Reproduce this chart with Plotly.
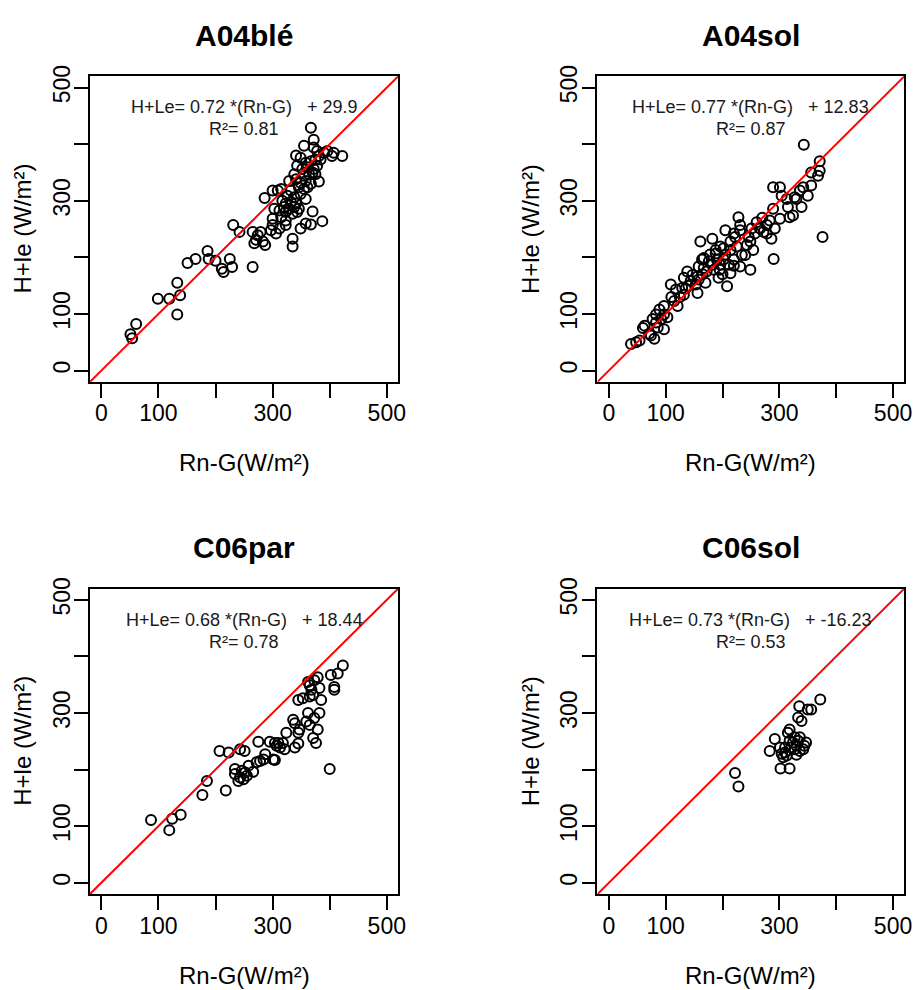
import plotly.graph_objects as go

# ---- data: Rn-G (x) vs H+le (y), W/m² ----
a04ble_x = [51, 54, 61, 99, 119, 133, 138, 133, 151, 165, 186, 188, 200, 211, 214, 225, 229, 265,
            231, 242, 265, 268, 274, 279, 283, 287, 271, 297,
            367, 372, 355, 372, 378, 390, 396, 407, 404, 422, 381, 375, 367, 384, 358, 349, 341,
            343, 352, 361, 372, 378, 338, 355, 364, 370, 375, 329, 341, 349, 358, 367, 381,
            346, 355, 361, 300, 309, 315, 332, 286, 326, 338, 349, 358, 317, 323, 332, 341,
            320, 329, 338, 346, 303, 312, 323, 335, 343, 370, 300, 315, 323, 387, 367, 358,
            349, 300, 312, 323, 306, 335, 335]
a04ble_y = [64, 57, 82, 127, 127, 155, 133, 99, 190, 197, 211, 197, 194, 180, 174, 197, 183, 183,
            257, 245, 245, 225, 239, 245, 228, 222, 231, 248,
            429, 408, 397, 394, 388, 385, 388, 385, 379, 379, 379, 373, 370, 373, 367, 376, 380,
            362, 356, 359, 356, 362, 347, 344, 347, 350, 347, 335, 338, 332, 335, 330, 334,
            324, 321, 324, 318, 318, 321, 318, 305, 309, 306, 312, 303, 300, 295, 298, 295,
            289, 286, 289, 286, 286, 283, 280, 277, 280, 281, 268, 271, 265, 264, 258, 260,
            251, 257, 251, 257, 242, 233, 219]

a04sol_x = [228, 205, 220, 231, 161, 182, 188, 202, 214, 225, 234, 167, 158, 167, 176, 182, 190,
            196, 202, 211, 220, 231, 138, 147, 156, 132, 144, 153, 170, 193, 208, 214, 109, 118,
            129, 132, 156, 121, 97, 89, 103, 92, 83, 63, 74, 80, 54, 39, 97, 86,
            222, 196, 214, 188, 164, 158, 135, 115, 83, 77, 71, 48, 97,
            172, 185, 195, 205, 178, 165, 200, 220, 140, 125, 110, 60,
            343, 371, 356, 371, 368, 289, 301, 304, 342, 356, 336, 350, 330, 327, 315, 339,
            313, 324, 318, 289, 301, 278, 283, 272, 266, 292, 251, 257, 278, 286, 246, 376,
            249, 240, 254, 290, 249, 243, 231, 260, 270]
a04sol_y = [271, 248, 242, 248, 228, 233, 213, 216, 228, 219, 204, 199, 184, 181, 193, 187, 196,
            187, 196, 187, 196, 184, 175, 169, 166, 164, 158, 152, 155, 164, 149, 172, 152, 143,
            146, 134, 137, 114, 114, 108, 94, 91, 85, 79, 62, 56, 53, 47, 73, 76,
            236, 219, 213, 207, 196, 161, 145, 123, 99, 91, 65, 50, 99,
            175, 178, 178, 205, 205, 170, 170, 185, 150, 130, 130, 75,
            399, 370, 350, 353, 344, 324, 324, 309, 324, 327, 318, 309, 303, 306, 289, 289,
            303, 274, 271, 286, 268, 257, 265, 245, 251, 251, 251, 242, 242, 233, 236, 236,
            178, 204, 213, 197, 228, 222, 257, 262, 270]

c06par_x = [87, 119, 124, 139, 177, 185, 218, 207, 223, 243, 251, 234, 234, 240, 249, 252, 258,
            266, 246, 272, 278, 275, 287, 295, 304, 301, 307, 313, 318, 321, 324, 336, 339,
            339, 345, 347, 362, 359, 373, 382, 379, 371, 376, 345, 353, 365, 385, 368, 382,
            365, 373, 379, 362, 402, 414, 423, 408, 408, 400, 243, 255, 284, 304, 310, 345,
            365, 371]
c06par_y = [111, 93, 113, 120, 155, 180, 163, 233, 230, 236, 233, 201, 192, 180, 183, 195, 207,
            196, 198, 213, 215, 249, 227, 249, 247, 218, 242, 239, 247, 236, 265, 288, 282,
            239, 265, 271, 300, 285, 291, 300, 271, 256, 247, 323, 326, 329, 323, 341, 344,
            349, 358, 363, 355, 367, 370, 384, 346, 341, 201, 186, 189, 218, 217, 247, 246,
            279, 332]

c06sol_x = [222, 228, 372, 335, 350, 356, 333, 339, 318, 315, 292, 283, 301, 318, 327, 336, 347,
            310, 307, 313, 304, 321, 330, 342, 336, 327, 302, 318, 333, 324, 344, 310, 330]
c06sol_y = [194, 170, 324, 312, 306, 306, 292, 286, 271, 265, 254, 233, 239, 251, 257, 257, 248,
            230, 222, 225, 228, 239, 242, 236, 233, 236, 202, 202, 251, 248, 242, 239, 226]

panel_titles = ["A04blé", "A04sol", "C06par", "C06sol"]
slopes = ["0.72", "0.77", "0.68", "0.73"]
intercepts = ["29.9", "12.83", "18.44", "-16.23"]
r_squared = ["0.81", "0.87", "0.78", "0.53"]

AXIS_RANGE = [-20, 520]
TICK_VALS = [0, 100, 200, 300, 400, 500]
TICK_TEXT = ["0", "100", "", "300", "", "500"]

series = [(a04ble_x, a04ble_y), (a04sol_x, a04sol_y), (c06par_x, c06par_y), (c06sol_x, c06sol_y)]

# ---- page geometry (pixels) ----
W, H = 924, 990
cols = [(90.7, 401.7), (602.7, 912.3)]
rows = [(66, 375), (584, 893)]
FONT = "Liberation Sans, Arial, Helvetica, sans-serif"
NB = "\u00a0"

fig = go.Figure()
layout = dict(width=W, height=H, margin=dict(l=0, r=0, t=0, b=0),
              paper_bgcolor="white", plot_bgcolor="white", showlegend=False,
              font=dict(family=FONT, color="black"))
annotations = []

for i, (xs, ys) in enumerate(series):
    c, r = i % 2, i // 2
    x0, x1 = cols[c]
    top, bot = rows[r]
    xa = "x" if i == 0 else f"x{i + 1}"
    ya = "y" if i == 0 else f"y{i + 1}"
    axis_common = dict(range=AXIS_RANGE, tickmode="array", tickvals=TICK_VALS, ticktext=TICK_TEXT,
                       ticks="outside", ticklen=14, tickwidth=1.8, tickcolor="black",
                       showline=True, linecolor="black", linewidth=1.8, mirror=True,
                       showgrid=False, zeroline=False,
                       tickfont=dict(family=FONT, size=23, color="black"))
    layout["xaxis" if i == 0 else f"xaxis{i + 1}"] = dict(
        domain=[x0 / W, x1 / W], anchor=ya, ticklabelstandoff=-4, **axis_common)
    layout["yaxis" if i == 0 else f"yaxis{i + 1}"] = dict(
        domain=[1 - bot / H, 1 - top / H], anchor=xa, tickangle=-90,
        ticklabelstandoff=-5, **axis_common)

    fig.add_trace(go.Scatter(x=xs, y=ys, xaxis=xa, yaxis=ya, mode="markers",
                             marker=dict(symbol="circle-open", size=10, color="black",
                                         line=dict(width=2))))
    fig.add_trace(go.Scatter(x=AXIS_RANGE, y=AXIS_RANGE, xaxis=xa, yaxis=ya, mode="lines",
                             line=dict(color="red", width=2)))

    cx = (x0 + x1) / 2
    annotations.append(dict(text=f"<b>{panel_titles[i]}</b>", x=cx / W, y=1 - (top - 41) / H,
                            xref="paper", yref="paper", showarrow=False,
                            xanchor="center", yanchor="middle",
                            font=dict(family=FONT, size=30, color="black")))
    annotations.append(dict(text="Rn-G(W/m²)", x=cx / W, y=1 - (bot + 82) / H,
                            xref="paper", yref="paper", showarrow=False,
                            xanchor="center", yanchor="middle",
                            font=dict(family=FONT, size=24, color="black")))
    annotations.append(dict(text="H+le (W/m²)", x=(x0 - 68) / W, y=1 - (top + bot) / 2 / H,
                            xref="paper", yref="paper", showarrow=False, textangle=-90,
                            xanchor="center", yanchor="middle",
                            font=dict(family=FONT, size=24, color="black")))
    eq = f"H+Le= {slopes[i]} *(Rn-G){NB}{NB}{NB}+ {intercepts[i]}"
    annotations.append(dict(text=eq, x=250, y=465, xref=xa, yref=ya, showarrow=False,
                            xanchor="center", yanchor="middle",
                            font=dict(family=FONT, size=18, color="#1a1a1a")))
    annotations.append(dict(text=f"R²= {r_squared[i]}", x=250, y=426, xref=xa, yref=ya,
                            showarrow=False, xanchor="center", yanchor="middle",
                            font=dict(family=FONT, size=18, color="#1a1a1a")))

layout["annotations"] = annotations
fig.update_layout(**layout)
fig.write_html("out.html")
